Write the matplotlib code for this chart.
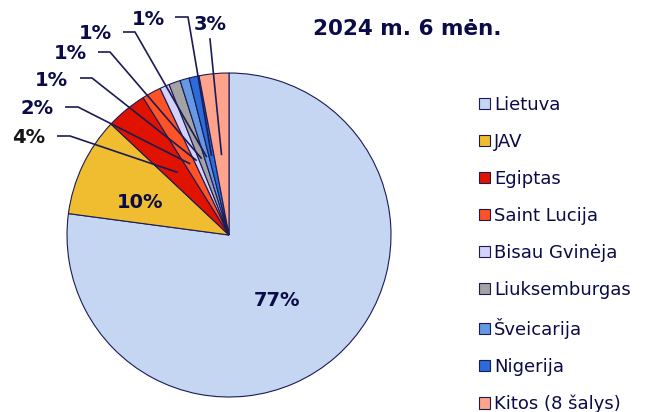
import numpy as np
import matplotlib
matplotlib.use("Agg")
import matplotlib.pyplot as plt

# shares, %
countries = ["Lietuva", "JAV", "Egiptas", "Saint Lucija", "Bisau Gvinėja",
             "Liuksemburgas", "Šveicarija", "Nigerija", "Kitos (8 šalys)"]
shares = [77.1, 9.9, 4.1, 1.9, 0.96, 1.15, 0.92, 1.0, 2.96]
colors = ["#C5D6F2", "#F0BD30", "#E01200", "#FF5225", "#D2D2FA",
          "#A3A3A3", "#6699E4", "#2B6BDA", "#FFA38D"]
title = "2024 m. 6 mėn."

W, H = 647, 412
navy = "#0b0b48"
edge = "#1b1b55"

fig = plt.figure(figsize=(W / 100, H / 100), dpi=100)
ax = fig.add_axes([0, 0, 1, 1])

# work in pixel units, y measured from the top
def py(y):
    return H - y

cx, cy, R = 229, py(235), 162
wedges, _ = ax.pie(shares, colors=colors, startangle=90, counterclock=False,
                   center=(cx, cy), radius=R,
                   wedgeprops=dict(edgecolor=edge, linewidth=0.8))
ax.set_xlim(0, W)
ax.set_ylim(0, H)
ax.set_aspect("equal")
ax.axis("off")

def pct(v):
    return f"{v:.0f}%"

def inner_point(w, frac=0.5):
    a = np.deg2rad((w.theta1 + w.theta2) / 2)
    return cx + frac * R * np.cos(a), cy + frac * R * np.sin(a)

lab = dict(fontsize=14, fontweight="bold", color=navy, ha="center", va="center")

# big slices get their labels inside
ax.text(140, py(202), pct(shares[1]), **lab)
ax.text(277, py(301), pct(shares[0]), **lab)

# small slices: label, short horizontal stub, then a line into the slice
label_pos = [(29, 137), (37, 108), (51, 80), (70, 53), (95, 33), (148, 19)]
stub = [(57, 70), (65, 78), (80, 92), (98, 110), (123, 135), (175, 188)]
stub_y = [136, 107, 78, 52, 32, 17]
for i, (p, s, sy) in enumerate(zip(label_pos, stub, stub_y)):
    w = wedges[i + 2]
    tx, ty = inner_point(w)
    col = "#151515" if i == 0 else navy
    ax.text(p[0], py(p[1]), pct(shares[i + 2]), **{**lab, "color": col})
    ax.plot([s[0], s[1], tx], [py(sy), py(sy), ty], color=edge, lw=1.2,
            solid_capstyle="butt")

# "Kitos" label sits straight above its slice
tx, ty = inner_point(wedges[-1])
ax.text(210, py(24), pct(shares[-1]), **lab)
ax.plot([210, tx], [py(39), ty], color=edge, lw=1.2)

ax.text(407, py(29), title, fontsize=15.5, fontweight="bold", color=navy,
        ha="center", va="center")

leg = fig.legend(wedges, countries, loc="upper left",
                 bbox_to_anchor=(479 / W, py(96) / H), frameon=False,
                 fontsize=13, handlelength=0.62, handleheight=0.62,
                 handletextpad=0.2, labelspacing=1.05, borderpad=0,
                 borderaxespad=0)
for t in leg.get_texts():
    t.set_color(navy)

fig.savefig("out.png", dpi=100)
